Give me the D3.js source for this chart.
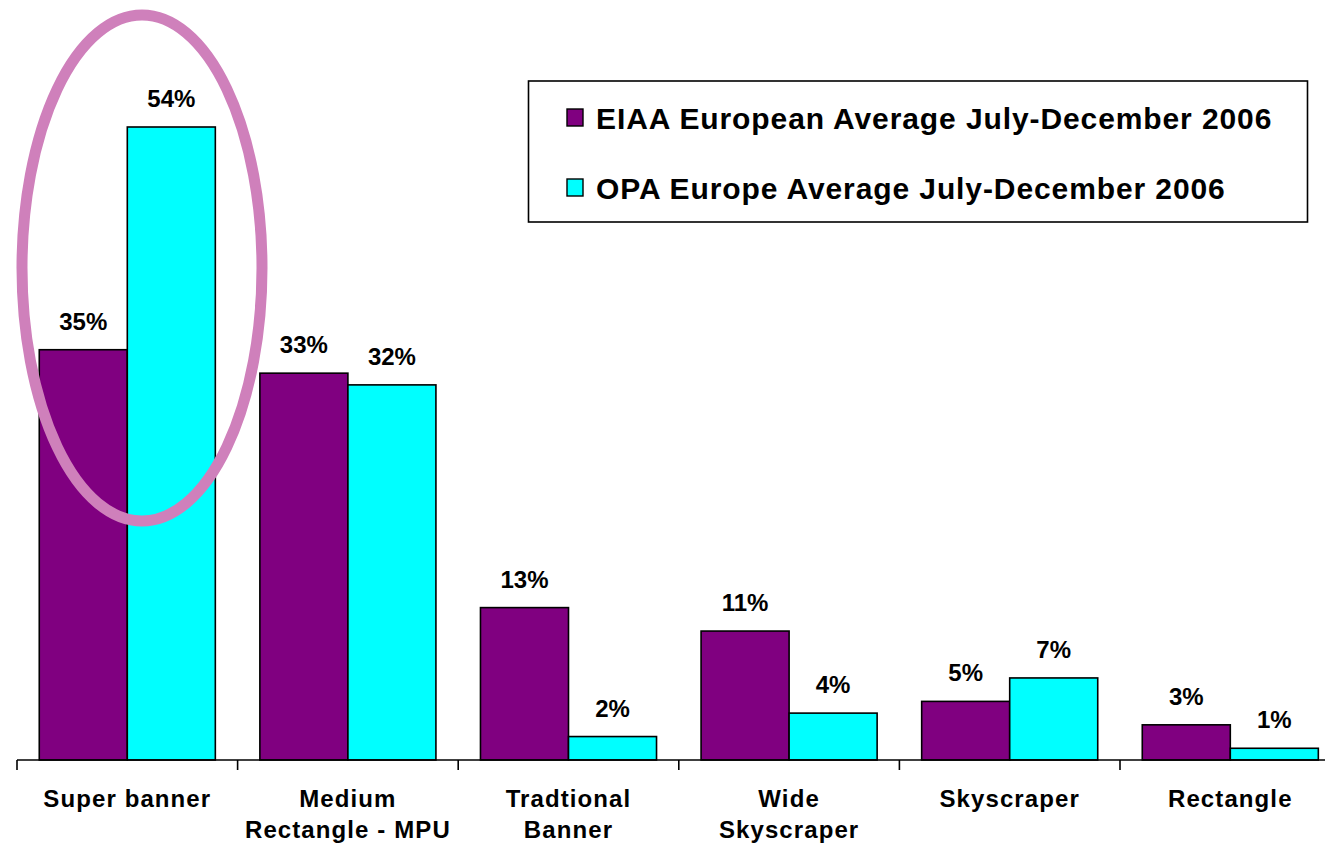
<!DOCTYPE html>
<html>
<head>
<meta charset="utf-8">
<script src="https://cdn.jsdelivr.net/npm/d3@7"></script>
<style>
  html, body { margin: 0; padding: 0; background: #fff; }
  svg { display: block; font-family: Arial, "Liberation Sans", sans-serif; font-weight: bold; }
</style>
</head>
<body>
<svg id="chart" width="1325" height="846"></svg>
<script>
// ── Data ───────────────────────────────────────────────────
const categories = [
  ['Super banner'],
  ['Medium', 'Rectangle - MPU'],
  ['Tradtional', 'Banner'],
  ['Wide', 'Skyscraper'],
  ['Skyscraper'],
  ['Rectangle']
];
const seriesNames = [
  'EIAA European Average July-December 2006',
  'OPA Europe Average July-December 2006'
];
const seriesColors = ['#800080', '#00ffff'];
const eiaaValues = [35, 33, 13, 11, 5, 3];
const opaValues = [54, 32, 2, 4, 7, 1];

// ── Scales ─────────────────────────────────────────────────
const svg = d3.select('#chart');
const baseY = 760;
const keys = categories.map(c => c.join(' '));

const x0 = d3.scaleBand()
  .domain(keys)
  .range([17, 17 + 6 * 220.6])
  .paddingInner(0)
  .paddingOuter(0);

const x1 = d3.scaleBand()
  .domain([0, 1])
  .range([0, x0.bandwidth()])
  .paddingInner(0)
  .paddingOuter(0.253);

const y = d3.scaleLinear().domain([0, 54]).range([baseY, 127]);

const rows = keys.map((k, i) => ({ key: k, values: [eiaaValues[i], opaValues[i]] }));

// ── Bars ───────────────────────────────────────────────────
const groups = svg.selectAll('g.cat')
  .data(rows)
  .enter().append('g')
  .attr('class', 'cat')
  .attr('transform', d => `translate(${x0(d.key)},0)`);

groups.selectAll('rect')
  .data(d => d.values.map((v, s) => ({ v, s })))
  .enter().append('rect')
  .attr('x', d => x1(d.s))
  .attr('y', d => y(d.v))
  .attr('width', x1.bandwidth())
  .attr('height', d => baseY - y(d.v))
  .attr('fill', d => seriesColors[d.s])
  .attr('stroke', '#000')
  .attr('stroke-width', 1.6);

groups.selectAll('text.val')
  .data(d => d.values.map((v, s) => ({ v, s })))
  .enter().append('text')
  .attr('class', 'val')
  .attr('x', d => x1(d.s) + x1.bandwidth() / 2)
  .attr('y', d => y(d.v) - 20)
  .attr('text-anchor', 'middle')
  .attr('font-size', '24px')
  .attr('fill', '#000')
  .text(d => d.v + '%');

// ── Axis ───────────────────────────────────────────────────
svg.append('line')
  .attr('x1', 17).attr('x2', 1325)
  .attr('y1', baseY).attr('y2', baseY)
  .attr('stroke', '#000').attr('stroke-width', 1.6);

const tickXs = keys.map(k => x0(k));
svg.selectAll('line.tick')
  .data(tickXs)
  .enter().append('line')
  .attr('class', 'tick')
  .attr('x1', d => d).attr('x2', d => d)
  .attr('y1', baseY).attr('y2', baseY + 10)
  .attr('stroke', '#000').attr('stroke-width', 1.6);

const catLabels = svg.selectAll('text.cat')
  .data(categories)
  .enter().append('text')
  .attr('class', 'cat')
  .attr('x', (d, i) => x0(keys[i]) + x0.bandwidth() / 2)
  .attr('y', 807)
  .attr('text-anchor', 'middle')
  .attr('font-size', '24px')
  .attr('letter-spacing', '1.1px')
  .attr('fill', '#000');

catLabels.each(function(d, i) {
  const t = d3.select(this);
  d.forEach((line, j) => {
    t.append('tspan')
      .attr('x', x0(keys[i]) + x0.bandwidth() / 2)
      .attr('dy', j === 0 ? 0 : 31)
      .text(line);
  });
});

// ── Legend ─────────────────────────────────────────────────
const legend = svg.append('g');
legend.append('rect')
  .attr('x', 528.5).attr('y', 81)
  .attr('width', 779).attr('height', 141)
  .attr('fill', '#fff')
  .attr('stroke', '#000').attr('stroke-width', 1.6);

seriesNames.forEach((name, i) => {
  const ly = 129 + i * 70;
  legend.append('rect')
    .attr('x', 567).attr('y', ly - 20)
    .attr('width', 16).attr('height', 17)
    .attr('fill', seriesColors[i])
    .attr('stroke', '#000').attr('stroke-width', 1.4);
  legend.append('text')
    .attr('x', 596).attr('y', ly)
    .attr('font-size', '30px')
    .attr('letter-spacing', '0.9px')
    .attr('fill', '#000')
    .text(name);
});

// ── Highlight ellipse ──────────────────────────────────────
svg.append('ellipse')
  .attr('cx', 142).attr('cy', 268)
  .attr('rx', 120).attr('ry', 253)
  .attr('fill', 'none')
  .attr('stroke', '#cf80bb')
  .attr('stroke-width', 11);
</script>
</body>
</html>
